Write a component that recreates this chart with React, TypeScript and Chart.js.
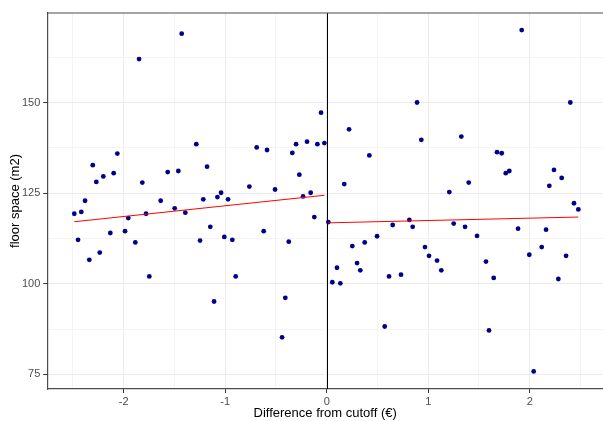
import React, { useEffect, useRef } from "react";
import { Chart, registerables } from "chart.js";

Chart.register(...registerables);

// Observations below the cutoff (x < 0)
const belowX = [
  -1.429, -1.849, -2.063, -2.305, -2.27, -2.201, -2.099, -1.817, -1.567, -1.462,
  -0.056, -1.285, -0.69, -0.588, -0.302, -0.194, -0.092, -0.023, -0.339, -0.27,
  -1.179, -0.762, -0.509, -1.041, -1.077, -1.216, -0.972, -0.233, -0.158, -2.487,
  -2.418, -2.381, -2.45, -2.339, -2.236, -2.132, -1.987, -1.955, -1.886, -1.78,
  -1.748, -1.636, -1.498, -1.393, -0.122, -1.147, -1.248, -1.009, -0.93, -0.621,
  -0.374, -0.897, -1.11, -0.408, -0.44,
];
const belowY = [
  169.0, 162.0, 135.9, 132.7, 128.1, 129.6, 130.5, 127.9, 130.8, 131.1,
  147.2, 138.5, 137.6, 136.9, 138.5, 139.2, 138.5, 138.8, 136.1, 130.1,
  132.3, 126.8, 126.0, 125.1, 123.9, 123.3, 123.3, 124.1, 125.1, 119.3,
  119.8, 122.9, 112.1, 106.6, 108.6, 114.0, 114.5, 118.1, 111.4, 119.3,
  102.0, 122.9, 120.8, 119.6, 118.4, 115.7, 111.9, 112.9, 112.1, 114.5,
  111.6, 102.0, 95.1, 96.1, 85.2,
];

// Observations above the cutoff (x >= 0)
const aboveX = [
  0.016, 0.22, 0.42, 0.173, 0.89, 0.932, 1.326, 1.208, 1.399, 1.921,
  2.4, 1.678, 1.724, 1.764, 1.799, 2.239, 2.315, 2.193, 0.101, 0.055,
  0.134, 0.252, 0.299, 0.331, 0.374, 0.496, 0.571, 0.614, 0.65, 0.732,
  0.814, 0.847, 0.968, 1.008, 1.087, 1.129, 1.251, 1.363, 1.481, 1.569,
  1.645, 1.599, 1.885, 1.996, 2.118, 2.161, 2.282, 2.358, 2.436, 2.479,
  2.039,
];
const aboveY = [
  117.0, 142.6, 135.4, 127.5, 150.0, 139.7, 140.6, 125.3, 127.9, 170.0,
  150.0, 136.3, 136.0, 130.5, 131.1, 131.4, 129.2, 127.0, 104.4, 100.4,
  100.1, 110.4, 105.7, 103.7, 111.4, 113.1, 88.2, 102.0, 116.2, 102.5,
  117.6, 115.7, 110.1, 107.7, 106.4, 103.7, 116.6, 115.7, 113.2, 106.1,
  101.6, 87.1, 115.2, 108.0, 110.1, 114.9, 101.3, 107.7, 122.2, 120.5,
  75.8,
];

// Fitted lines (endpoints)
const fitBelowX = [-2.487, -0.023];
const fitBelowY = [117.1, 124.4];
const fitAboveX = [0.016, 2.479];
const fitAboveY = [116.8, 118.4];

const cutoff = 0;

// Axis ticks
const xMajor = [-2, -1, 0, 1, 2];
const xMinor = [-2.5, -1.5, -0.5, 0.5, 1.5, 2.5];
const yMajor = [75, 100, 125, 150];
const yMinor = [87.5, 112.5, 137.5, 162.5];

const X_MIN = -2.753;
const X_MAX = 2.722;
const Y_MIN = 70.95;
const Y_MAX = 174.7;

const FONT = '"Liberation Sans", Arial, sans-serif';

const pts = (xs: number[], ys: number[]) => xs.map((x, i) => ({ x, y: ys[i] }));

export default function App() {
  const ref = useRef<HTMLCanvasElement | null>(null);

  useEffect(() => {
    document.body.style.margin = "0";
    document.body.style.overflow = "hidden";
    if (!ref.current) return;

    const framePlugin = {
      id: "frame",
      beforeDatasetsDraw(chart: any) {
        const { ctx, chartArea, scales } = chart;
        const x0 = scales.x.getPixelForValue(cutoff);
        ctx.save();
        ctx.strokeStyle = "#000000";
        ctx.lineWidth = 1;
        ctx.beginPath();
        ctx.moveTo(Math.round(x0) + 0.5, chartArea.top);
        ctx.lineTo(Math.round(x0) + 0.5, chartArea.bottom);
        ctx.stroke();
        ctx.restore();
      },
      afterDraw(chart: any) {
        const { ctx, chartArea } = chart;
        ctx.save();
        ctx.strokeStyle = "#4d4d4d";
        ctx.lineWidth = 1.2;
        ctx.beginPath();
        ctx.moveTo(chartArea.left, chartArea.top);
        ctx.lineTo(chartArea.right, chartArea.top);
        ctx.stroke();
        ctx.restore();
      },
    };

    const isMajorX = (v: number) => xMajor.includes(v);
    const isMajorY = (v: number) => yMajor.includes(v);

    const chart = new Chart(ref.current, {
      type: "scatter",
      data: {
        datasets: [
          {
            data: pts(fitBelowX, fitBelowY),
            showLine: true,
            borderColor: "#FF0000",
            borderWidth: 1,
            pointRadius: 0,
            order: 1,
          } as any,
          {
            data: pts(fitAboveX, fitAboveY),
            showLine: true,
            borderColor: "#FF0000",
            borderWidth: 1,
            pointRadius: 0,
            order: 1,
          } as any,
          {
            data: pts(belowX, belowY),
            pointRadius: 2.4,
            pointBackgroundColor: "#00008B",
            pointBorderWidth: 0,
            order: 2,
          },
          {
            data: pts(aboveX, aboveY),
            pointRadius: 2.4,
            pointBackgroundColor: "#00008B",
            pointBorderWidth: 0,
            order: 2,
          },
        ],
      },
      options: {
        animation: false,
        responsive: false,
        devicePixelRatio: 1,
        layout: { autoPadding: false, padding: { top: 13, right: 0, left: 0, bottom: 0 } },
        plugins: { legend: { display: false }, tooltip: { enabled: false } },
        scales: {
          x: {
            type: "linear",
            min: X_MIN,
            max: X_MAX,
            afterBuildTicks: (s: any) => {
              s.ticks = [...xMinor, ...xMajor].sort((a, b) => a - b).map((v) => ({ value: v }));
            },
            afterFit: (s: any) => {
              s.height = 32;
              s.paddingLeft = 0;
              s.paddingRight = 0;
            },
            ticks: {
              autoSkip: false,
              maxRotation: 0,
              color: "#4D4D4D",
              padding: 2,
              font: { family: FONT, size: 11 },
              callback: (v: any) => (isMajorX(Number(v)) ? String(v) : ""),
            },
            grid: {
              color: (c: any) => (isMajorX(c.tick?.value) ? "#EBEBEB" : "#F4F4F4"),
              lineWidth: 1,
              tickColor: (c: any) => (isMajorX(c.tick?.value) ? "#333333" : "rgba(0,0,0,0)"),
              tickLength: 4,
              tickWidth: 1,
            },
            border: { display: true, color: "#4d4d4d", width: 1.2 },
            title: {
              display: true,
              text: "Difference from cutoff (€)",
              color: "#000000",
              font: { family: FONT, size: 13, lineHeight: 1 },
              padding: { top: 0, bottom: 1 },
            },
          },
          y: {
            type: "linear",
            min: Y_MIN,
            max: Y_MAX,
            afterBuildTicks: (s: any) => {
              s.ticks = [...yMinor, ...yMajor].sort((a, b) => a - b).map((v) => ({ value: v }));
            },
            afterFit: (s: any) => {
              s.width = 47.3;
              s.paddingTop = 0;
              s.paddingBottom = 0;
            },
            ticks: {
              autoSkip: false,
              color: "#4D4D4D",
              padding: 3,
              font: { family: FONT, size: 11 },
              callback: (v: any) => (isMajorY(Number(v)) ? String(v) : ""),
            },
            grid: {
              color: (c: any) => (isMajorY(c.tick?.value) ? "#EBEBEB" : "#F4F4F4"),
              lineWidth: 1,
              tickColor: (c: any) => (isMajorY(c.tick?.value) ? "#333333" : "rgba(0,0,0,0)"),
              tickLength: 4,
              tickWidth: 1,
            },
            border: { display: true, color: "#4d4d4d", width: 1.2 },
            title: {
              display: true,
              text: "floor space (m2)",
              color: "#000000",
              font: { family: FONT, size: 13, lineHeight: 1 },
              padding: { top: 8.5, bottom: 0 },
            },
          },
        },
      },
      plugins: [framePlugin],
    });

    return () => chart.destroy();
  }, []);

  return (
    <div style={{ position: "relative", width: 603, height: 421 }}>
      <canvas ref={ref} width={603} height={421} style={{ display: "block", width: 603, height: 421 }} />
    </div>
  );
}
